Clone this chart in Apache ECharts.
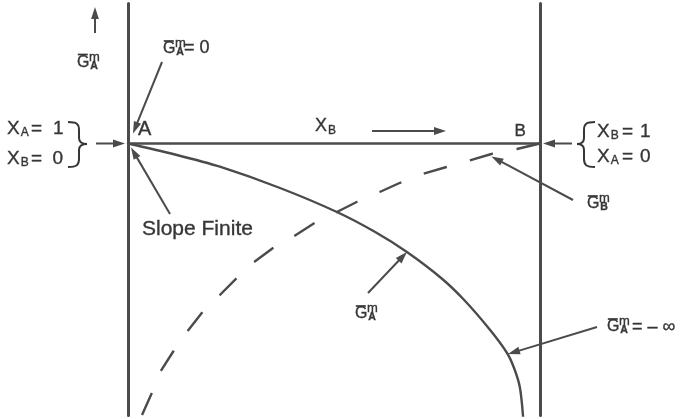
<!DOCTYPE html>
<html>
<head>
<meta charset="utf-8">
<title>Partial molar Gibbs energies of A and B</title>
<script src="https://cdn.jsdelivr.net/npm/echarts@6/dist/echarts.min.js"></script>
<style>
  html, body { margin: 0; padding: 0; background: #fff; }
  #chart { width: 686px; height: 419px; }
</style>
</head>
<body>
<div id="chart"></div>
<script>
// Composition axis: mole fraction of B (pure A at 0, pure B at 1)
const xLimits = [0, 1];
// Energy axis (arbitrary units), 0 on the A–B line
const gLimits = [-2.72, 1.4];

// Ḡ_A^m (solid): finite slope at A, dropping towards −∞ near B
const gA_xB  = [0, 0.114, 0.223, 0.369, 0.507, 0.600, 0.677, 0.760, 0.816, 0.879, 0.920, 0.937, 0.951, 0.959];
const gA_val = [0, -0.110, -0.232, -0.445, -0.685, -0.885, -1.085, -1.345, -1.565, -1.865, -2.095, -2.245, -2.435, -2.735];

// Ḡ_B^m (dashed): rising from far below near A to 0 at B
const gB_xB  = [0.034, 0.058, 0.078, 0.109, 0.143, 0.179, 0.223, 0.264, 0.303, 0.352, 0.400,
                0.453, 0.507, 0.555, 0.611, 0.659, 0.715, 0.773, 0.827, 0.882, 0.944, 1.0];
const gB_val = [-2.715, -2.495, -2.285, -2.085, -1.885, -1.695, -1.515, -1.345, -1.195, -1.045, -0.935,
                -0.795, -0.685, -0.585, -0.485, -0.395, -0.305, -0.235, -0.172, -0.105, -0.055, 0];

// Points on the curves that the callout arrows point at [X_B, value]
const tipGA_mid = [0.677, -1.085];
const tipGA_inf = [0.920, -2.095];
const tipGB     = [0.882, -0.13];

const INK  = '#4b4b4b';
const TEXT = '#363636';
const FONT = '"Liberation Sans", Arial, Helvetica, sans-serif';

const zip = (xs, ys) => xs.map((x, i) => [x, ys[i]]);

const chart = echarts.init(document.getElementById('chart'), null, { renderer: 'canvas' });

const hiddenAxisParts = {
  axisTick: { show: false },
  axisLabel: { show: false },
  splitLine: { show: false }
};

chart.setOption({
  animation: false,
  backgroundColor: '#ffffff',
  grid: { left: 128, right: 146, top: 3.5, bottom: 3.5 },
  xAxis: Object.assign({
    type: 'value', min: xLimits[0], max: xLimits[1],
    axisLine: { show: true, onZero: true, lineStyle: { color: INK, width: 2.5 } }
  }, hiddenAxisParts),
  yAxis: [
    Object.assign({
      type: 'value', min: gLimits[0], max: gLimits[1], position: 'left',
      axisLine: { show: true, onZero: false, lineStyle: { color: INK, width: 3 } }
    }, hiddenAxisParts),
    Object.assign({
      type: 'value', min: gLimits[0], max: gLimits[1], position: 'right',
      axisLine: { show: true, onZero: false, lineStyle: { color: INK, width: 3 } }
    }, hiddenAxisParts)
  ],
  series: [
    {
      name: 'G_A', type: 'line', data: zip(gA_xB, gA_val),
      smooth: 0.3, symbol: 'none', clip: true,
      lineStyle: { color: INK, width: 2.4 }
    },
    {
      name: 'G_B', type: 'line', data: zip(gB_xB, gB_val),
      smooth: false, symbol: 'none', clip: true,
      lineStyle: { color: INK, width: 2.4, type: [24, 24], cap: 'butt' }
    }
  ]
});

const px = (p) => chart.convertToPixel({ gridIndex: 0 }, p);

// ---- annotation helpers ----
function txt(str, left, cy, size, weight) {
  return {
    type: 'text', silent: true,
    style: {
      text: str, x: left, y: cy,
      fontSize: size, fontFamily: FONT, fontWeight: weight || 'normal',
      fill: TEXT, stroke: TEXT, lineWidth: 0.35,
      textAlign: 'left', textVerticalAlign: 'middle'
    }
  };
}

function arrow(x1, y1, x2, y2) {
  const len = 12, hw = 3.9;
  const dx = x2 - x1, dy = y2 - y1, d = Math.hypot(dx, dy);
  const ux = dx / d, uy = dy / d;
  const bx = x2 - ux * len, by = y2 - uy * len;
  return [
    { type: 'line', silent: true,
      shape: { x1: x1, y1: y1, x2: bx + ux * 2, y2: by + uy * 2 },
      style: { stroke: INK, lineWidth: 2 } },
    { type: 'polygon', silent: true,
      shape: { points: [[x2, y2], [bx - uy * hw, by + ux * hw], [bx + uy * hw, by - ux * hw]] },
      style: { fill: INK } }
  ];
}

// Ḡ with superscript m and a subscript letter stacked on its right
function gbar(left, cy, sub) {
  return [
    txt('G', left, cy, 16),
    { type: 'line', silent: true,
      shape: { x1: left + 0.8, y1: cy - 8, x2: left + 10.8, y2: cy - 8 },
      style: { stroke: TEXT, lineWidth: 1.7 } },
    txt('m', left + 12, cy - 5.5, 13),
    txt(sub, left + 13.2, cy + 3.2, 10.5, 'bold')
  ];
}

// subscripted symbol such as X_A
function xsub(left, cy, sub, size, subSize) {
  return [
    txt('X', left, cy, size),
    txt(sub, left + size * 0.72, cy + 4, subSize)
  ];
}

// curly brace built from bezier pieces
function brace(xEnd, xStem, xTip, yTop, yMid, yBot) {
  const s = { stroke: TEXT, lineWidth: 2, fill: null };
  const k = (xTip - xStem);
  return [
    { type: 'bezierCurve', silent: true, style: s,
      shape: { x1: xEnd, y1: yTop, cpx1: xEnd + (xStem - xEnd) * 0.8, cpy1: yTop,
               cpx2: xStem, cpy2: yTop + 2, x2: xStem, y2: yTop + 8 } },
    { type: 'line', silent: true, style: s,
      shape: { x1: xStem, y1: yTop + 8, x2: xStem, y2: yMid - 6 } },
    { type: 'bezierCurve', silent: true, style: s,
      shape: { x1: xStem, y1: yMid - 6, cpx1: xStem, cpy1: yMid - 2,
               cpx2: xStem + k * 0.4, cpy2: yMid, x2: xTip, y2: yMid } },
    { type: 'bezierCurve', silent: true, style: s,
      shape: { x1: xTip, y1: yMid, cpx1: xStem + k * 0.4, cpy1: yMid,
               cpx2: xStem, cpy2: yMid + 2, x2: xStem, y2: yMid + 6 } },
    { type: 'line', silent: true, style: s,
      shape: { x1: xStem, y1: yMid + 6, x2: xStem, y2: yBot - 8 } },
    { type: 'bezierCurve', silent: true, style: s,
      shape: { x1: xStem, y1: yBot - 8, cpx1: xStem, cpy1: yBot - 2,
               cpx2: xEnd + (xStem - xEnd) * 0.8, cpy2: yBot, x2: xEnd, y2: yBot } }
  ];
}

const pA = px([0, 0]);
const pB = px([1, 0]);
const pMid = px(tipGA_mid);
const pInf = px(tipGA_inf);
const pGB = px(tipGB);

const els = [].concat(
  // vertical axis caption with upward arrow
  arrow(95, 33, 95, 7),
  gbar(77, 62.5, 'A'),

  // Ḡ_A^m = 0 at pure A
  gbar(163, 49, 'A'),
  [txt('= 0', 184, 48.5, 18)],
  arrow(162, 62, pA[0] + 5, pA[1] - 10),
  [txt('A', 138, 129.5, 20)],

  // left end composition
  xsub(7, 128.5, 'A', 19, 12),
  [txt('=', 31, 128.5, 19), txt('1', 53, 128.5, 19)],
  xsub(7, 159, 'B', 19, 12),
  [txt('=', 31, 159, 19), txt('0', 52.5, 159, 19)],
  brace(68, 79, 87, 122, 144, 167),
  arrow(96, pA[1], pA[0] - 3, pA[1]),

  // composition direction
  xsub(315, 126.5, 'B', 18, 12),
  arrow(372, 131, 446, 131),
  [txt('B', 514.5, 131, 17)],

  // right end composition
  arrow(572, pB[1], pB[0] + 3, pB[1]),
  brace(595, 584, 577, 122, 144, 167),
  xsub(597, 131.5, 'B', 19, 12),
  [txt('=', 622, 131.5, 19), txt('1', 640, 131.5, 19)],
  xsub(597, 157, 'A', 19, 12),
  [txt('=', 622, 157, 19), txt('0', 640, 157, 19)],

  // Ḡ_B^m callout
  arrow(573, 200, pGB[0], pGB[1]),
  gbar(587, 204, 'B'),

  // slope at A
  [txt('Slope Finite', 142, 229, 21)],
  arrow(170, 214, pA[0] + 3, pA[1] + 4),

  // Ḡ_A^m callout
  gbar(355, 314, 'A'),
  arrow(368, 293, pMid[0], pMid[1]),

  // Ḡ_A^m = −∞ callout
  arrow(597, 327, pInf[0] + 1, pInf[1] + 1),
  gbar(607, 327, 'A'),
  [txt('= – ∞', 632, 327, 18)]
);

chart.setOption({ graphic: { elements: els } });
</script>
</body>
</html>
